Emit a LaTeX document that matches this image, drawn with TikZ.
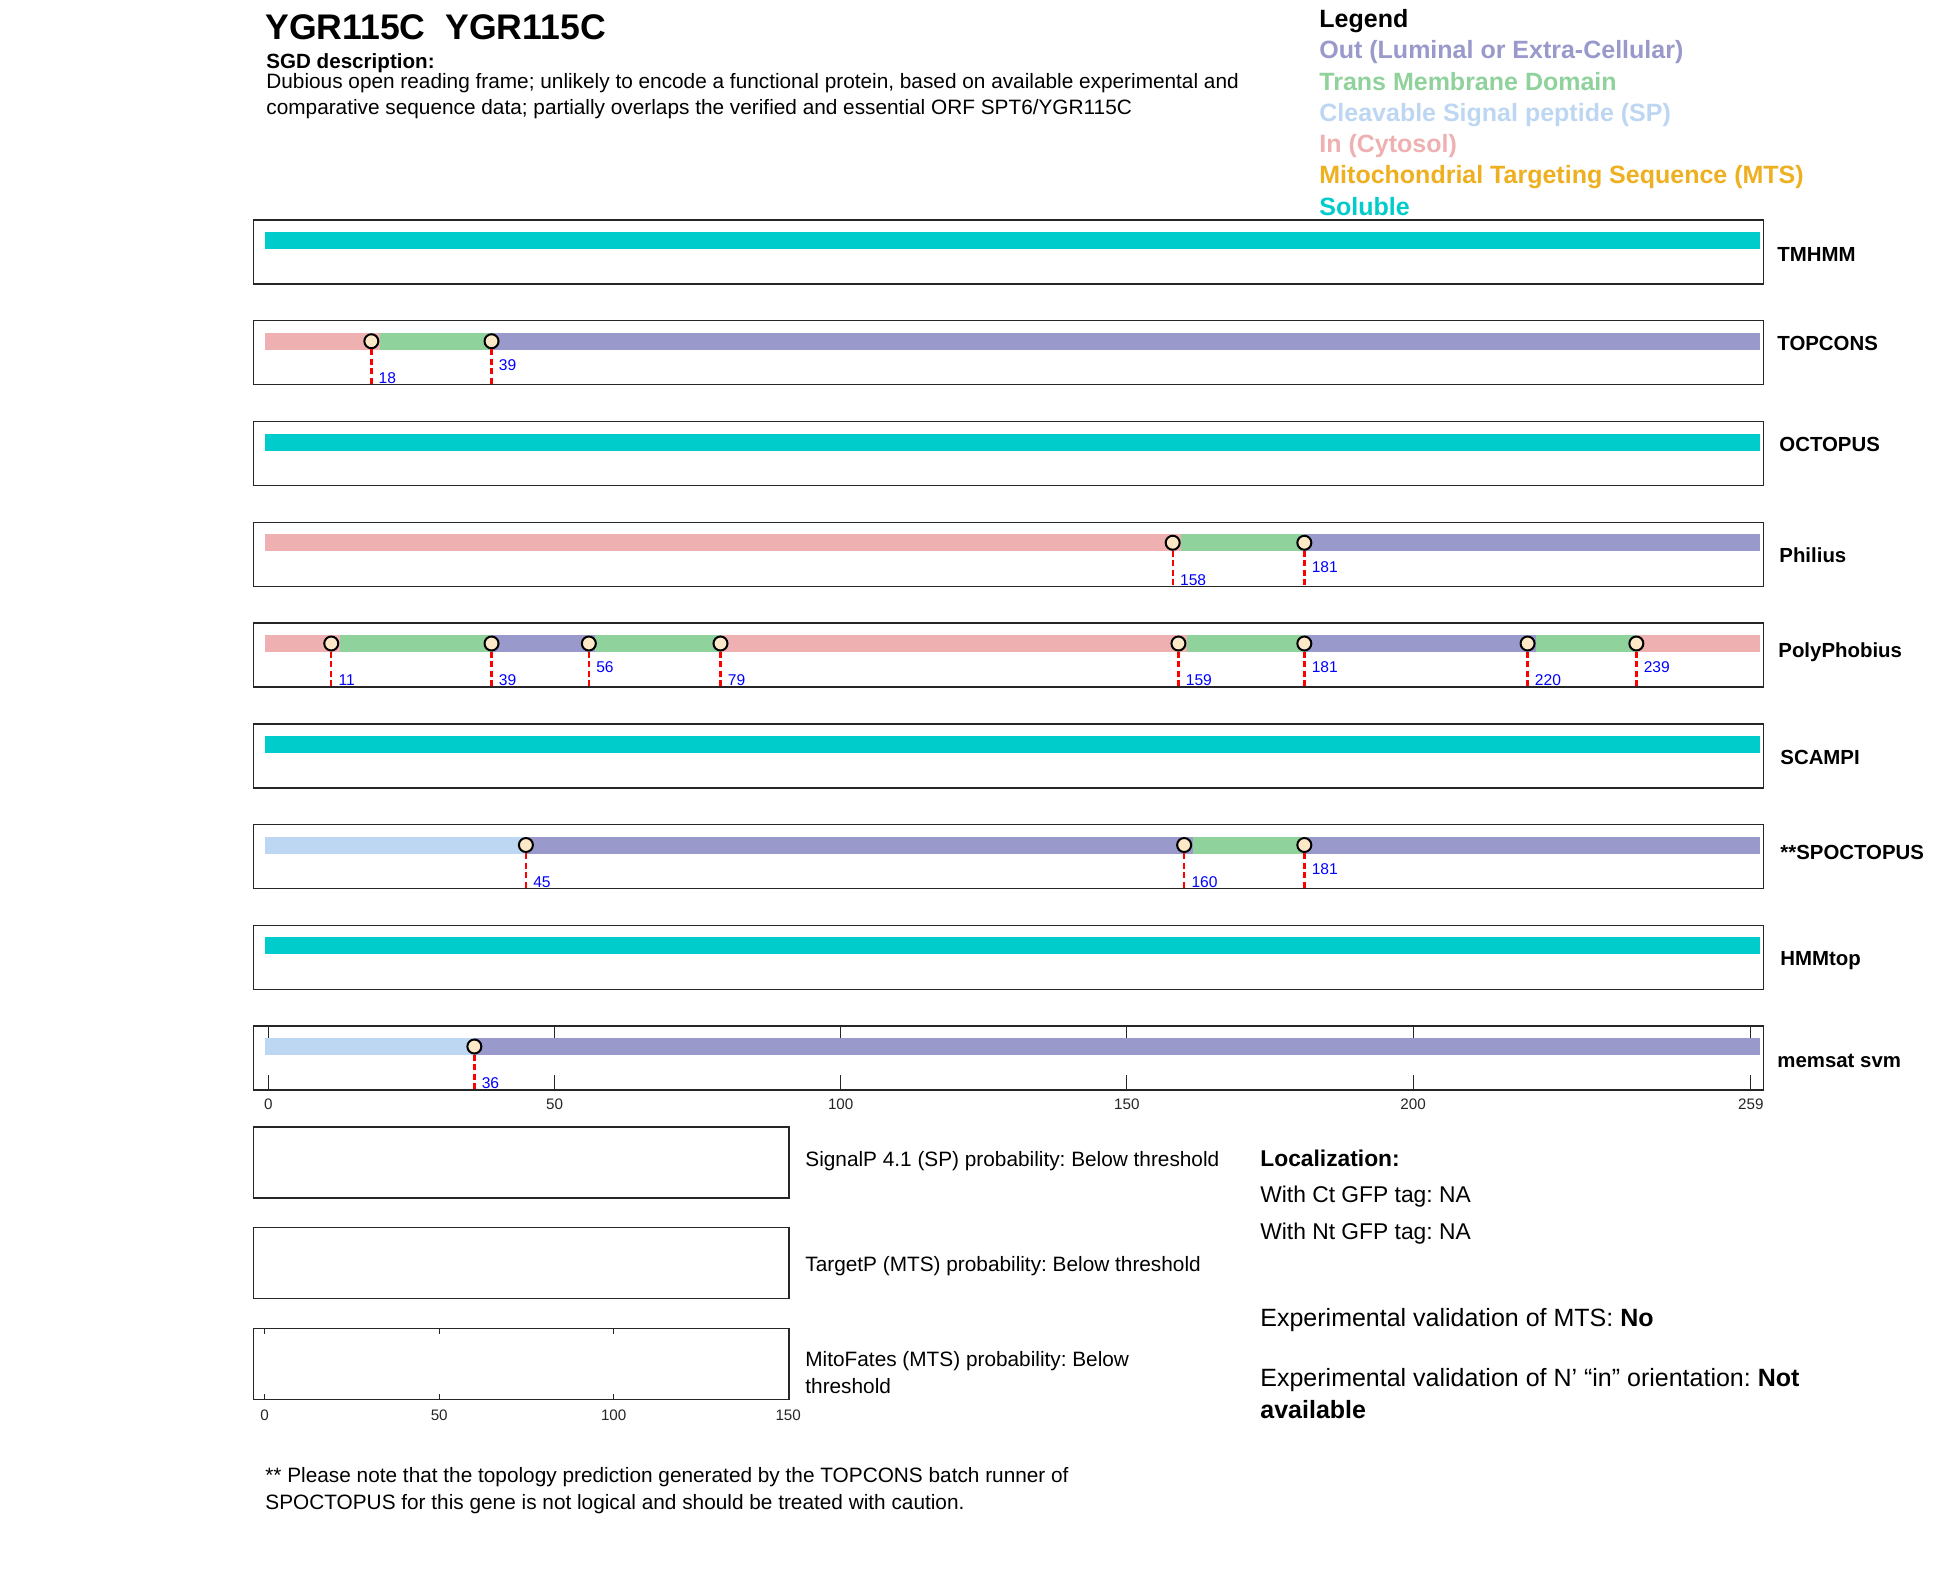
\documentclass[tikz,border=0pt]{standalone}
\usepackage{fontspec}
\setmainfont{Liberation Sans}
\usetikzlibrary{positioning}

\definecolor{outcol}{RGB}{153,153,204}
\definecolor{tmcol}{RGB}{144,210,155}
\definecolor{spcol}{RGB}{189,215,242}
\definecolor{incol}{RGB}{238,176,176}
\definecolor{mtscol}{RGB}{238,176,32}
\definecolor{solcol}{RGB}{0,204,204}
\definecolor{framecol}{RGB}{38,38,38}
\definecolor{dotfill}{RGB}{253,232,200}

\tikzset{
  panelbox/.style={draw=framecol, line width=0.75pt},
  axtick/.style={draw=framecol, line width=0.5pt},
  cutdot/.style={circle, draw=black, fill=dotfill, line width=1pt, minimum size=7pt, inner sep=0pt},
  cutline/.style={red, line width=1.2pt, dash pattern=on 3pt off 1.75pt},
  numlbl/.style={text=blue, font=\fontsize{7.8}{9}\selectfont, anchor=west, inner sep=0pt},
  ticklbl/.style={text=framecol, font=\fontsize{7.6}{9}\selectfont, inner sep=0pt},
  toollbl/.style={font=\fontsize{10.2}{12}\selectfont\bfseries, anchor=base west, inner sep=0pt},
  legtxt/.style={font=\fontsize{12.5}{15}\selectfont\bfseries, anchor=base west, inner sep=0pt},
  plain/.style={font=\fontsize{10.4}{12}\selectfont, anchor=base west, inner sep=0pt},
  probtxt/.style={font=\fontsize{10.4}{12}\selectfont, anchor=base west, inner sep=0pt},
  loctxt/.style={font=\fontsize{11.4}{14}\selectfont, anchor=base west, inner sep=0pt},
  valtxt/.style={font=\fontsize{12.5}{15}\selectfont, anchor=base west, inner sep=0pt}
}

% one coloured piece of a prediction bar: colour, from, to, panel top
\newcommand{\segbar}[4]{\fill[#1] ({268.3+5.724*(#2)},{#4+12}) rectangle ({268.3+5.724*(#3)},{#4+29});}
% boundary marker: name, residue, panel top, label lift
\newcommand{\cutmark}[4]{%
  \node[cutdot] (#1) at ({268.3+5.724*#2},{#3+20.5}) {};
  \coordinate (#1b) at ({268.3+5.724*#2},{#3+64});
  \draw[cutline] (#1) -- (#1b);
  \node[numlbl] (#1n) at ({268.3+5.724*#2+7},{#3+64-#4}) {#2};
}

\begin{document}
\frenchspacing
\begin{tikzpicture}[x=0.5pt, y=-0.5pt]
\fill[white] (0,0) rectangle (1950,1573);
\useasboundingbox (0,0) rectangle (1950,1573);

% header
\node[font=\fontsize{17.8}{21}\selectfont\bfseries, anchor=base west, inner sep=0pt] (title) at (265,40) {YGR115C\ \ YGR115C};
\node[font=\fontsize{10.3}{12}\selectfont\bfseries, anchor=base west, inner sep=0pt] (sgd) at (266,69) {SGD description:};
\node[plain] (desca) at (266,89) {Dubious open reading frame; unlikely to encode a functional protein, based on available experimental and};
\node[plain] (descb) at (266,115) {comparative sequence data; partially overlaps the verified and essential ORF SPT6/YGR115C};

% legend
\node[legtxt] (leg0) at (1319,27.5) {Legend};
\foreach \col/\txt [count=\k] in {outcol/Out (Luminal or Extra-Cellular), tmcol/Trans Membrane Domain,
    spcol/Cleavable Signal peptide (SP), incol/In (Cytosol),
    mtscol/Mitochondrial Targeting Sequence (MTS), solcol/Soluble}
  \node[legtxt, text=\col] (leg\k) at (1319,{27.5+31.3*\k}) {\txt};

% panels
\foreach \ytop/\lx/\ly/\tool [count=\i] in {220/1777/261.3/TMHMM, 320.75/1777/350.3/TOPCONS,
    421.5/1779/451.3/OCTOPUS, 522.25/1779/562.3/Philius, 623/1778/657.3/PolyPhobius,
    723.75/1780/764.3/SCAMPI, 824.5/1780/859.3/**SPOCTOPUS, 925.25/1780/965.3/HMMtop,
    1026/1777/1067.3/memsat svm} {
  \draw[panelbox] (253.5,\ytop) rectangle (1763.5,{\ytop+64});
  \node[toollbl] (tool\i) at (\lx,\ly) {\tool};
}

% axis of the last panel
\foreach \v in {0,50,100,150,200,259} {
  \draw[axtick] ({268.3+5.724*\v},1026) -- ++(0,15);
  \draw[axtick] ({268.3+5.724*\v},1090) -- ++(0,-15);
  \node[ticklbl] (ax\v) at ({268.3+5.724*\v},1104) {\v};
}

% soluble predictions
\foreach \ytop in {220,421.5,723.75,925.25} {
  \segbar{solcol}{-0.6}{260.6}{\ytop}
}

% TOPCONS
\segbar{incol}{-0.6}{19.5}{320.75}
\segbar{tmcol}{19.5}{39}{320.75}
\segbar{outcol}{39}{260.6}{320.75}
\cutmark{tc18}{18}{320.75}{6.5}
\cutmark{tc39}{39}{320.75}{19.5}

% Philius
\segbar{incol}{-0.6}{159.5}{522.25}
\segbar{tmcol}{159.5}{181}{522.25}
\segbar{outcol}{181}{260.6}{522.25}
\cutmark{ph158}{158}{522.25}{6.5}
\cutmark{ph181}{181}{522.25}{19.5}

% PolyPhobius
\segbar{incol}{-0.6}{12.5}{623}
\segbar{tmcol}{12.5}{39}{623}
\segbar{outcol}{39}{57}{623}
\segbar{tmcol}{57}{79}{623}
\segbar{incol}{79}{160.5}{623}
\segbar{tmcol}{160.5}{181}{623}
\segbar{outcol}{181}{221.5}{623}
\segbar{tmcol}{221.5}{239}{623}
\segbar{incol}{239}{260.6}{623}
\cutmark{pp11}{11}{623}{6.5}
\cutmark{pp39}{39}{623}{6.5}
\cutmark{pp56}{56}{623}{19.5}
\cutmark{pp79}{79}{623}{6.5}
\cutmark{pp159}{159}{623}{6.5}
\cutmark{pp181}{181}{623}{19.5}
\cutmark{pp220}{220}{623}{6.5}
\cutmark{pp239}{239}{623}{19.5}

% SPOCTOPUS
\segbar{spcol}{-0.6}{45}{824.5}
\segbar{outcol}{45}{161.5}{824.5}
\segbar{tmcol}{161.5}{181}{824.5}
\segbar{outcol}{181}{260.6}{824.5}
\cutmark{sp45}{45}{824.5}{6.5}
\cutmark{sp160}{160}{824.5}{6.5}
\cutmark{sp181}{181}{824.5}{19.5}

% memsat svm
\segbar{spcol}{-0.6}{36}{1026}
\segbar{outcol}{36}{260.6}{1026}
\cutmark{ms36}{36}{1026}{6.5}

% probability panels
\draw[panelbox] (253.5,1127) rectangle (789,1198);
\draw[panelbox] (253.5,1227.7) rectangle (789,1298.7);
\draw[panelbox] (253.5,1328.4) rectangle (789,1399.4);
\foreach \v in {0,50,100,150} {
  \draw[axtick] ({264.7+3.49*\v},1328.4) -- ++(0,5.4);
  \draw[axtick] ({264.7+3.49*\v},1399.4) -- ++(0,-5.4);
  \node[ticklbl] (px\v) at ({264.7+3.49*\v},1415) {\v};
}
\node[probtxt] (sigp) at (805,1166.5) {SignalP 4.1 (SP) probability: Below threshold};
\node[probtxt] (tgtp) at (805,1271) {TargetP (MTS) probability: Below threshold};
\node[probtxt] (mitoa) at (805,1366.5) {MitoFates (MTS) probability: Below};
\node[probtxt] (mitob) at (805,1393) {threshold};

% localization
\node[loctxt, font=\fontsize{11.4}{14}\selectfont\bfseries] (loc) at (1260,1166) {Localization:};
\node[loctxt] (locct) at (1260,1202) {With Ct GFP tag: NA};
\node[loctxt] (locnt) at (1260,1239) {With Nt GFP tag: NA};
\node[valtxt] (valmts) at (1260,1326) {Experimental validation of MTS: \textbf{No}};
\node[valtxt] (valna) at (1260,1386) {Experimental validation of N’ “in” orientation: \textbf{Not}};
\node[valtxt, font=\fontsize{12.5}{15}\selectfont\bfseries] (valnb) at (1260,1418) {available};

% footnote
\node[plain] (notea) at (265,1482) {** Please note that the topology prediction generated by the TOPCONS batch runner of};
\node[plain] (noteb) at (265,1509) {SPOCTOPUS for this gene is not logical and should be treated with caution.};
\end{tikzpicture}
\end{document}
